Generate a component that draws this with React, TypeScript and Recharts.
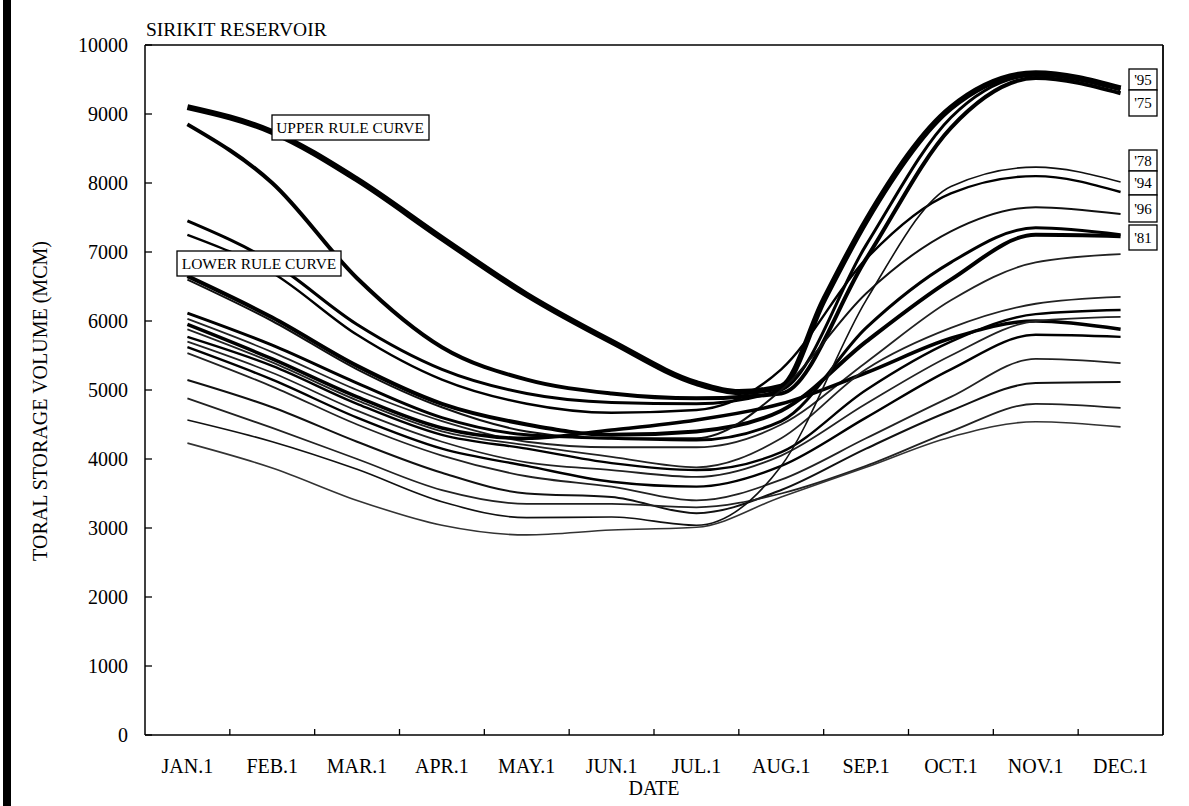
import React from 'react';
import { LineChart, Line, XAxis, YAxis } from 'recharts';

// ---------- data ----------
const MONTH_LABELS = ['JAN.1', 'FEB.1', 'MAR.1', 'APR.1', 'MAY.1', 'JUN.1', 'JUL.1', 'AUG.1', 'SEP.1', 'OCT.1', 'NOV.1', 'DEC.1'];
const MONTH_X = [0, 1, 2, 3, 4, 5, 6, 7, 8, 9, 10, 11];
const Y_TICKS = [0, 1000, 2000, 3000, 4000, 5000, 6000, 7000, 8000, 9000, 10000];

const UPPER_RULE_X = [0, 1, 2, 3, 4, 5, 6, 6.5, 7, 7.5, 8, 9, 10, 11];
const UPPER_RULE = [9100, 8740, 8050, 7200, 6380, 5700, 5100, 4970, 5050, 6300, 7450, 9090, 9590, 9370];

const LOWER_RULE = [6650, 6050, 5350, 4800, 4500, 4350, 4400, 4700, 5700, 6600, 7250, 7230];
const Y1975 = [8850, 8000, 6620, 5620, 5150, 4950, 4880, 4950, 6900, 8800, 9520, 9300];
const Y1995 = [7450, 6850, 5950, 5300, 4950, 4820, 4800, 5000, 7100, 8950, 9560, 9360];
const Y1994 = [7250, 6700, 5800, 5150, 4800, 4670, 4710, 5300, 6900, 7850, 8100, 7870];
const Y1996 = [6600, 6000, 5300, 4750, 4400, 4300, 4300, 5000, 6400, 7300, 7650, 7550];
const Y1981 = [6115, 5650, 5100, 4600, 4350, 4300, 4275, 4550, 5900, 6850, 7350, 7250];
const YEAR_A = [6030, 5550, 5000, 4550, 4250, 4170, 4170, 4500, 5400, 6300, 6850, 6970];
const YEAR_B = [5950, 5450, 4900, 4450, 4300, 4420, 4565, 4800, 5250, 5750, 6000, 5880];
const YEAR_C = [5880, 5400, 4850, 4400, 4200, 4030, 3880, 4300, 5300, 5900, 6250, 6350];
const YEAR_D = [5770, 5350, 4800, 4350, 4150, 3940, 3840, 4100, 5000, 5700, 6100, 6160];
const YEAR_E = [5700, 5250, 4700, 4250, 3950, 3840, 3740, 4050, 4800, 5500, 6000, 6060];
const YEAR_F = [5620, 5150, 4600, 4150, 3900, 3670, 3600, 3900, 4600, 5300, 5800, 5770];
const YEAR_G = [5535, 5050, 4500, 4050, 3750, 3600, 3400, 3700, 4300, 4900, 5450, 5390];
const YEAR_H = [5145, 4750, 4250, 3800, 3500, 3450, 3215, 3550, 4150, 4700, 5100, 5115];
const YEAR_I = [4880, 4450, 4000, 3550, 3350, 3350, 3300, 3500, 3900, 4400, 4800, 4740];
const Y1978 = [4565, 4250, 3850, 3380, 3150, 3160, 3040, 3900, 6300, 7950, 8230, 8015];
const YEAR_J = [4230, 3870, 3400, 3040, 2900, 2970, 3010, 3450, 3880, 4320, 4540, 4465];

const YEAR_TAGS = ["'95", "'75", "'78", "'94", "'96", "'81"];

// ---------- layout / style ----------
const W = 1189;
const H = 806;
const MARGIN = { top: 44, right: 25, left: 0, bottom: 0 };
const Y_AXIS_W = 145;
const X_AXIS_H = 71;
const PLOT_W = W - MARGIN.left - MARGIN.right - 1 - Y_AXIS_W;
const FONT = "'Liberation Serif', 'Times New Roman', Times, serif";

type S = { key: string; x: number[]; v: number[]; w: number; c: string };
const SERIES: S[] = [
  { key: 'upper', x: UPPER_RULE_X, v: UPPER_RULE, w: 6, c: '#000' },
  { key: 'y75', x: MONTH_X, v: Y1975, w: 4, c: '#000' },
  { key: 'y95', x: MONTH_X, v: Y1995, w: 3, c: '#000' },
  { key: 'y94', x: MONTH_X, v: Y1994, w: 2.4, c: '#000' },
  { key: 'lower', x: MONTH_X, v: LOWER_RULE, w: 4, c: '#000' },
  { key: 'y96', x: MONTH_X, v: Y1996, w: 2, c: '#111' },
  { key: 'y81', x: MONTH_X, v: Y1981, w: 3, c: '#000' },
  { key: 'a', x: MONTH_X, v: YEAR_A, w: 1.8, c: '#222' },
  { key: 'b', x: MONTH_X, v: YEAR_B, w: 3.5, c: '#000' },
  { key: 'c', x: MONTH_X, v: YEAR_C, w: 1.8, c: '#222' },
  { key: 'd', x: MONTH_X, v: YEAR_D, w: 2.4, c: '#000' },
  { key: 'e', x: MONTH_X, v: YEAR_E, w: 1.8, c: '#222' },
  { key: 'f', x: MONTH_X, v: YEAR_F, w: 2.4, c: '#000' },
  { key: 'g', x: MONTH_X, v: YEAR_G, w: 1.8, c: '#222' },
  { key: 'h', x: MONTH_X, v: YEAR_H, w: 2, c: '#111' },
  { key: 'i', x: MONTH_X, v: YEAR_I, w: 1.8, c: '#222' },
  { key: 'y78', x: MONTH_X, v: Y1978, w: 1.6, c: '#111' },
  { key: 'j', x: MONTH_X, v: YEAR_J, w: 1.6, c: '#333' },
];

const XTick = (p: any) => {
  const { x, y, payload } = p;
  const half = PLOT_W / MONTH_X.length / 2;
  const idx = payload.value as number;
  return (
    <g>
      <text x={x} y={y + 38} textAnchor="middle" fontSize={20} fontFamily={FONT} fill="#000">
        {MONTH_LABELS[idx]}
      </text>
      {idx < MONTH_X.length - 1 && (
        <line x1={x + half} x2={x + half} y1={y} y2={y - 6} stroke="#000" strokeWidth={1.3} />
      )}
    </g>
  );
};

const YTick = (p: any) => {
  const { x, y, payload } = p;
  return (
    <g>
      <text x={x} y={y} dy={7} textAnchor="end" fontSize={20} fontFamily={FONT} fill="#000">
        {payload.value}
      </text>
      <line x1={x + 17} x2={x + 24} y1={y} y2={y} stroke="#000" strokeWidth={1.3} />
    </g>
  );
};

const TagBox = ({ x, y, w, h, label }: { x: number; y: number; w: number; h: number; label: string }) => (
  <g>
    <rect x={x} y={y} width={w} height={h} fill="#fff" stroke="#000" strokeWidth={1.3} />
    <text x={x + w / 2} y={y + h / 2 + 5} textAnchor="middle" fontSize={15} fontFamily={FONT} fill="#000">
      {label}
    </text>
  </g>
);

export default function App() {
  return (
    <div style={{ position: 'absolute', left: 0, top: 0, width: W, height: H, background: '#fff', overflow: 'hidden' }}>
      <LineChart width={W} height={H} margin={MARGIN}>
        <XAxis
          type="number"
          dataKey="x"
          domain={[-0.5, 11.5]}
          allowDataOverflow
          ticks={MONTH_X}
          interval={0}
          height={X_AXIS_H}
          tickSize={0}
          tickMargin={0}
          tickLine={false}
          axisLine={{ stroke: '#000', strokeWidth: 1.5 }}
          tick={(p: any) => <XTick {...p} />}
        />
        <XAxis
          xAxisId="top"
          orientation="top"
          type="number"
          domain={[-0.5, 11.5]}
          allowDataOverflow
          height={1}
          tick={false}
          tickLine={false}
          axisLine={{ stroke: '#000', strokeWidth: 1.5 }}
        />
        <YAxis
          type="number"
          domain={[0, 10000]}
          allowDataOverflow
          ticks={Y_TICKS}
          interval={0}
          width={Y_AXIS_W}
          tickSize={0}
          tickMargin={17}
          tickLine={false}
          axisLine={{ stroke: '#000', strokeWidth: 1.5 }}
          tick={(p: any) => <YTick {...p} />}
        />
        <YAxis
          yAxisId="right"
          orientation="right"
          type="number"
          domain={[0, 10000]}
          allowDataOverflow
          width={1}
          tick={false}
          tickLine={false}
          axisLine={{ stroke: '#000', strokeWidth: 1.8 }}
        />
        {SERIES.map((s) => (
          <Line
            key={s.key}
            data={s.v.map((v, i) => ({ x: s.x[i], v }))}
            dataKey="v"
            type="monotone"
            stroke={s.c}
            strokeWidth={s.w}
            dot={false}
            activeDot={false}
            isAnimationActive={false}
          />
        ))}
      </LineChart>

      <svg width={W} height={H} style={{ position: 'absolute', left: 0, top: 0, pointerEvents: 'none' }}>
        <rect x={3} y={0} width={8} height={H} fill="#000" />
        <text x={146} y={36} fontSize={19.5} fontFamily={FONT} fill="#000">SIRIKIT RESERVOIR</text>
        <text
          x={47}
          y={401}
          transform="rotate(-90 47 401)"
          textAnchor="middle"
          fontSize={20}
          fontFamily={FONT}
          fill="#000"
        >
          TORAL STORAGE VOLUME (MCM)
        </text>
        <text x={654} y={795} textAnchor="middle" fontSize={20} fontFamily={FONT} fill="#000">DATE</text>

        <rect x={272} y={115} width={157} height={25} fill="#fff" stroke="#000" strokeWidth={1.3} />
        <text x={350} y={133} textAnchor="middle" fontSize={15.5} fontFamily={FONT} fill="#000">UPPER RULE CURVE</text>
        <rect x={177} y={251} width={164} height={25} fill="#fff" stroke="#000" strokeWidth={1.3} />
        <text x={259} y={269} textAnchor="middle" fontSize={15.5} fontFamily={FONT} fill="#000">LOWER RULE CURVE</text>

        <TagBox x={1129} y={69} w={28} h={21} label={YEAR_TAGS[0]} />
        <TagBox x={1129} y={90} w={28} h={26} label={YEAR_TAGS[1]} />
        <TagBox x={1129} y={150} w={28} h={21} label={YEAR_TAGS[2]} />
        <TagBox x={1129} y={171} w={28} h={24} label={YEAR_TAGS[3]} />
        <TagBox x={1129} y={195} w={28} h={27} label={YEAR_TAGS[4]} />
        <TagBox x={1129} y={225} w={28} h={25} label={YEAR_TAGS[5]} />
      </svg>
    </div>
  );
}
